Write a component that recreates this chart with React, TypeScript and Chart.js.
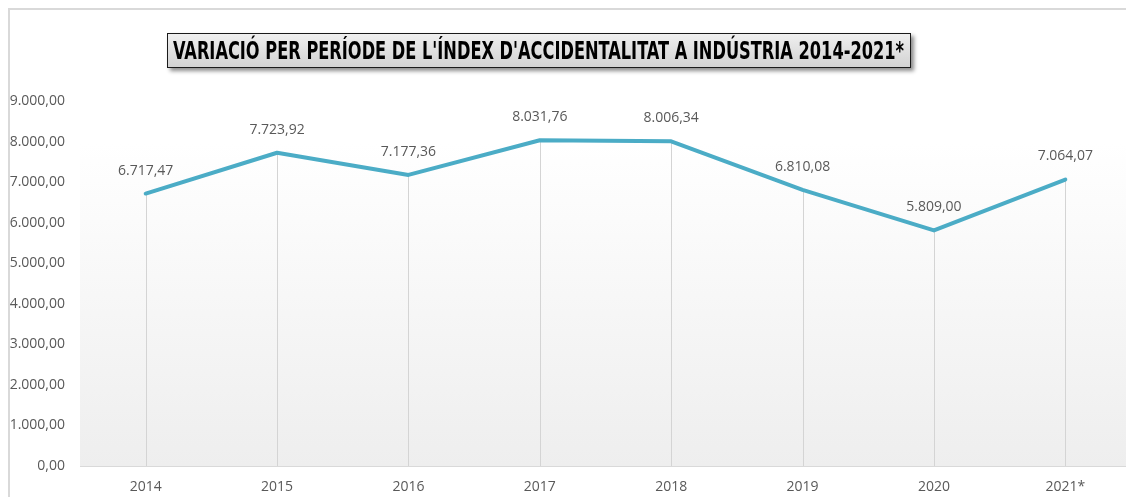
import React, { useEffect, useLayoutEffect, useRef } from "react";
import { Chart, registerables } from "chart.js";

Chart.register(...registerables);

const TITLE = "VARIACIÓ PER PERÍODE DE L'ÍNDEX D'ACCIDENTALITAT A INDÚSTRIA 2014-2021*";
const CATEGORIES = ["2014", "2015", "2016", "2017", "2018", "2019", "2020", "2021*"];
const VALUES = [6717.47, 7723.92, 7177.36, 8031.76, 8006.34, 6810.08, 5809.0, 7064.07];
const Y_MIN = 0;
const Y_MAX = 9000;
const Y_STEP = 1000;

const LINE_COLOR = "#4bacc6";
const TEXT_COLOR = "#595959";
const FONT_FAMILY = "'Open Sans', 'Noto Sans', sans-serif";

function fmt(v: number): string {
  const [i, d] = Math.abs(v).toFixed(2).split(".");
  const ii = i.replace(/\B(?=(\d{3})+(?!\d))/g, ".");
  return (v < 0 ? "-" : "") + ii + "," + d;
}

const bgPlugin = {
  id: "plotBg",
  beforeDraw(chart: any) {
    const { ctx, chartArea } = chart;
    const { left, right, top, bottom } = chartArea;
    const start = top + (bottom - top) * 0.114;
    const g = ctx.createLinearGradient(0, start, 0, bottom);
    g.addColorStop(0, "#ffffff");
    g.addColorStop(1, "#eeeeee");
    ctx.save();
    ctx.fillStyle = g;
    ctx.fillRect(left, start, right - left, bottom - start);
    ctx.restore();
  },
};

const dropLinePlugin = {
  id: "dropLines",
  beforeDatasetsDraw(chart: any) {
    const { ctx, chartArea } = chart;
    const meta = chart.getDatasetMeta(0);
    ctx.save();
    ctx.strokeStyle = "#d4d4d4";
    ctx.lineWidth = 1;
    meta.data.forEach((pt: any) => {
      const x = Math.round(pt.x) + 0.5;
      ctx.beginPath();
      ctx.moveTo(x, pt.y);
      ctx.lineTo(x, chartArea.bottom);
      ctx.stroke();
    });
    ctx.restore();
  },
};

const labelPlugin = {
  id: "valueLabels",
  afterDatasetsDraw(chart: any) {
    const { ctx } = chart;
    const meta = chart.getDatasetMeta(0);
    const data = chart.data.datasets[0].data as number[];
    ctx.save();
    ctx.font = `14px ${FONT_FAMILY}`;
    ctx.fillStyle = TEXT_COLOR;
    ctx.textAlign = "center";
    ctx.textBaseline = "middle";
    meta.data.forEach((pt: any, i: number) => {
      ctx.fillText(fmt(data[i]), pt.x, pt.y - 23);
    });
    ctx.restore();
  },
};

export default function App() {
  const canvasRef = useRef<HTMLCanvasElement>(null);
  const titleRef = useRef<HTMLSpanElement>(null);

  useLayoutEffect(() => {
    document.documentElement.style.overflow = "hidden";
    document.body.style.overflow = "hidden";
    const span = titleRef.current;
    if (span) {
      span.style.transform = "none";
      const w = span.getBoundingClientRect().width;
      const target = 731;
      if (w > 0) span.style.transform = `scaleX(${target / w})`;
    }
  }, []);

  useEffect(() => {
    if (!canvasRef.current) return;
    const chart = new Chart(canvasRef.current, {
      type: "line",
      data: {
        labels: CATEGORIES,
        datasets: [
          {
            data: VALUES,
            borderColor: LINE_COLOR,
            backgroundColor: LINE_COLOR,
            borderWidth: 4,
            borderJoinStyle: "round",
            borderCapStyle: "round",
            pointRadius: 0,
            pointHoverRadius: 0,
            tension: 0,
            fill: false,
          },
        ],
      },
      options: {
        responsive: false,
        animation: false,
        devicePixelRatio: 1,
        layout: { padding: { left: 0, right: 3, top: 91, bottom: 0 } },
        plugins: {
          legend: { display: false },
          tooltip: { enabled: false },
          title: { display: false },
        },
        scales: {
          x: {
            offset: true,
            grid: { display: false, drawTicks: false },
            border: { display: true, color: "#d9d9d9", width: 1 },
            ticks: {
              color: TEXT_COLOR,
              font: { family: FONT_FAMILY, size: 14 },
              padding: 13,
              maxRotation: 0,
              autoSkip: false,
            },
            afterFit(scale: any) {
              scale.height = 31;
            },
          },
          y: {
            min: Y_MIN,
            max: Y_MAX,
            grid: { display: false, drawTicks: false },
            border: { display: false },
            ticks: {
              stepSize: Y_STEP,
              color: TEXT_COLOR,
              font: { family: FONT_FAMILY, size: 14 },
              padding: 15,
              callback: (v: any) => fmt(Number(v)),
            },
            afterFit(scale: any) {
              scale.width = 70;
            },
          },
        },
      },
      plugins: [bgPlugin, dropLinePlugin, labelPlugin],
    } as any);
    return () => chart.destroy();
  }, []);

  return (
    <div
      style={{
        position: "relative",
        width: 1124,
        height: 487,
        borderTop: "2px solid #d9d9d9",
        borderLeft: "2px solid #d9d9d9",
      }}
    >
      <canvas ref={canvasRef} width={1124} height={487} style={{ display: "block", width: 1124, height: 487 }} />
      <div
        style={{
          position: "absolute",
          left: 157,
          top: 23,
          width: 744,
          height: 35,
          boxSizing: "border-box",
          border: "1px solid #1a1a1a",
          background: "linear-gradient(#efefef, #d2d2d2)",
          boxShadow: "3px 3px 4px rgba(0,0,0,0.45)",
          display: "flex",
          alignItems: "center",
          overflow: "visible",
          whiteSpace: "nowrap",
        }}
      >
        <span
          ref={titleRef}
          style={{
            display: "inline-block",
            marginLeft: 5,
            transformOrigin: "left center",
            fontFamily: "'Liberation Sans Narrow', 'DejaVu Sans Condensed', 'Liberation Sans', sans-serif",
            fontWeight: "bold",
            fontSize: 24,
            color: "#000",
            lineHeight: "26px",
          }}
        >
          {TITLE}
        </span>
      </div>
    </div>
  );
}
